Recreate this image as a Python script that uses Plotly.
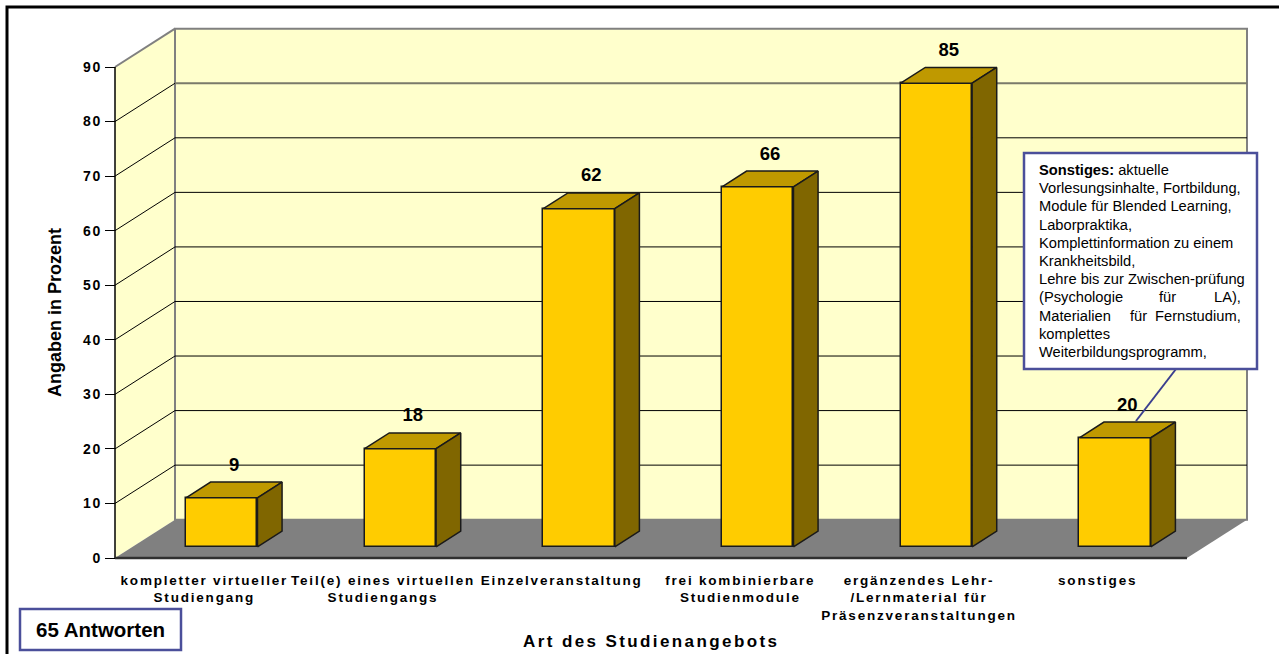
import plotly.graph_objects as go

# ---- data -------------------------------------------------------------
category_lines = [
    ["kompletter virtueller", "Studiengang"],
    ["Teil(e) eines virtuellen", "Studiengangs"],
    ["Einzelveranstaltung"],
    ["frei kombinierbare", "Studienmodule"],
    ["ergänzendes Lehr-", "/Lernmaterial für", "Präsenzveranstaltungen"],
    ["sonstiges"],
]
values = [9, 18, 62, 66, 85, 20]
y_ticks = [0, 10, 20, 30, 40, 50, 60, 70, 80, 90]
y_title = "Angaben in Prozent"
x_title = "Art des Studienangebots"
n_answers = "65 Antworten"
note_lines = [
    ["<b>Sonstiges:</b> aktuelle"],
    ["Vorlesungsinhalte, Fortbildung,"],
    ["Module für Blended Learning,"],
    ["Laborpraktika,"],
    ["Komplettinformation zu einem"],
    ["Krankheitsbild,"],
    ["Lehre bis zur Zwischen-prüfung"],
    ["(Psychologie", "für", "LA),"],
    ["Materialien", "für", "Fernstudium,"],
    ["komplettes"],
    ["Weiterbildungsprogramm,"],
]

# ---- geometry of the pseudo-3D frame -----------------------------------
W, H = 1279, 654
X0_PX, Y0_PX = 115, 558          # front corner of the chart box (value 0)
SX = (1187 - 115) / 6            # pixels per category
SY = (558 - 67) / 90             # pixels per percent
DX = 60 / SX                     # depth offset (x, in category units)
DY = 38.3 / SY                   # depth offset (y, in percent units)
PAD = 3
ML = X0_PX - PAD
MR = W - int(round(X0_PX + 6 * SX + 60)) - PAD
MB = H - Y0_PX - PAD
MT = int(round(Y0_PX - (90 + DY) * SY)) - PAD
PW = W - ML - MR
PH = H - MT - MB

Z0, Z1 = 0.29, 0.70              # depth span of the bars
BAR_W = 0.4

FRONT = "#FFCC00"
TOP = "#BF9900"
SIDE = "#806600"
WALL = "#FFFFCC"
FLOOR = "#808080"
EDGE = "#1a1a1a"
BOXLINE = "#4B4F9A"
FONT = "Liberation Sans, Arial, sans-serif"


def px(xp):
    return (xp - ML) / PW


def py(yp):
    return (H - MB - yp) / PH


def spaced(text, sp):
    return f'<span style="letter-spacing:{sp}px">{text}</span>'


def path(pts):
    return "M " + " L ".join(f"{x},{y}" for x, y in pts) + " Z"


shapes = []
# walls and floor
shapes.append(dict(type="path", xref="x", yref="y", layer="below",
                   path=path([(0, 0), (DX, DY), (DX, 90 + DY), (0, 90)]),
                   fillcolor=WALL, line=dict(width=0)))
shapes.append(dict(type="rect", xref="x", yref="y", layer="below",
                   x0=DX, y0=DY, x1=6 + DX, y1=90 + DY,
                   fillcolor=WALL, line=dict(color="#808080", width=2)))
shapes.append(dict(type="path", xref="x", yref="y", layer="below",
                   path=path([(0, 0), (6, 0), (6 + DX, DY), (DX, DY)]),
                   fillcolor=FLOOR, line=dict(width=0)))
# gridlines on back and side wall
for v in y_ticks[1:]:
    col = "#7a7a6a" if v >= 80 else "#000000"
    wid = 2 if v >= 80 else 1
    if v < 90:
        shapes.append(dict(type="line", xref="x", yref="y", layer="below",
                           x0=DX, y0=v + DY, x1=6 + DX, y1=v + DY,
                           line=dict(color=col, width=wid)))
    shapes.append(dict(type="line", xref="x", yref="y", layer="below",
                       x0=0, y0=v, x1=DX, y1=v + DY,
                       line=dict(color="#808080" if v == 90 else "#000000",
                                 width=2 if v == 90 else 1)))
# front axis lines
shapes.append(dict(type="line", xref="x", yref="y", layer="below",
                   x0=0, y0=0, x1=0, y1=90, line=dict(color="#000000", width=1.5)))
shapes.append(dict(type="line", xref="x", yref="y", layer="below",
                   x0=0, y0=0, x1=6, y1=0, line=dict(color="#303030", width=2.5)))

fig = go.Figure()

# bar front faces
fig.add_trace(go.Bar(
    x=[i + 0.5 + Z0 * DX for i in range(len(values))],
    y=values, base=Z0 * DY, width=BAR_W,
    marker=dict(color=FRONT, line=dict(color=EDGE, width=1.5)),
    hoverinfo="skip", showlegend=False,
))

# bar top and side faces
ddx, ddy = (Z1 - Z0) * DX, (Z1 - Z0) * DY
for i, v in enumerate(values):
    xl = i + 0.5 + Z0 * DX - BAR_W / 2
    xr = xl + BAR_W
    yb = Z0 * DY
    yt = yb + v
    top = [(xl, yt), (xr, yt), (xr + ddx, yt + ddy), (xl + ddx, yt + ddy), (xl, yt)]
    side = [(xr, yb), (xr, yt), (xr + ddx, yt + ddy), (xr + ddx, yb + ddy), (xr, yb)]
    for pts, col in ((top, TOP), (side, SIDE)):
        fig.add_trace(go.Scatter(
            x=[p[0] for p in pts], y=[p[1] for p in pts], mode="lines",
            fill="toself", fillcolor=col, line=dict(color=EDGE, width=1.5),
            hoverinfo="skip", showlegend=False,
        ))

# value labels above the bars
mid = (Z0 + Z1) / 2
fig.add_trace(go.Scatter(
    x=[i + 0.5 + mid * DX for i in range(len(values))],
    y=[Z0 * DY + v + (Z1 - Z0) / 2 * DY + 4.4 for v in values],
    mode="text", text=[str(v) for v in values],
    textfont=dict(family=FONT, size=18.5, weight="bold", color="#000000"),
    cliponaxis=False, hoverinfo="skip", showlegend=False,
))

# outer frame
shapes.append(dict(type="rect", xref="paper", yref="paper",
                   x0=px(7), y0=py(700), x1=px(1320), y1=py(7),
                   line=dict(color="#000000", width=3), fillcolor="rgba(0,0,0,0)"))
# "65 Antworten" box
shapes.append(dict(type="rect", xref="paper", yref="paper",
                   x0=px(20), y0=py(650), x1=px(181), y1=py(609),
                   line=dict(color=BOXLINE, width=2.5), fillcolor="#FFFFFF"))
# note box and its leader line
shapes.append(dict(type="line", xref="paper", yref="paper",
                   x0=px(1176), y0=py(369), x1=px(1136), y1=py(421),
                   line=dict(color="#3B3F8F", width=2)))
shapes.append(dict(type="rect", xref="paper", yref="paper",
                   x0=px(1024), y0=py(369), x1=px(1257), y1=py(153),
                   line=dict(color=BOXLINE, width=2.5), fillcolor="#FFFFFF"))

annotations = [
    dict(xref="paper", yref="paper", x=px(55), y=py(313), text=y_title,
         textangle=-90, showarrow=False, xanchor="center", yanchor="middle",
         font=dict(family=FONT, size=18, weight="bold", color="#000000")),
    dict(xref="paper", yref="paper", x=px(651), y=py(641), text=spaced(x_title, 2.4),
         showarrow=False, xanchor="center", yanchor="middle",
         font=dict(family=FONT, size=17, weight="bold", color="#000000")),
    dict(xref="paper", yref="paper", x=px(100.5), y=py(629.5), text=n_answers,
         showarrow=False, xanchor="center", yanchor="middle",
         font=dict(family=FONT, size=20.5, weight="bold", color="#000000")),
]
note_font = dict(family=FONT, size=14.7, color="#000000")
for k, words in enumerate(note_lines):
    yk = py(170 + 18.2 * k)
    if len(words) == 1:
        annotations.append(dict(xref="paper", yref="paper", x=px(1037), y=yk,
                                text=words[0], showarrow=False, xanchor="left",
                                yanchor="middle", font=note_font))
    else:
        anchors = [("left", 1037), ("center", None), ("right", 1243)]
        for (anc, xx), w in zip(anchors, words):
            if xx is None:
                xx = 1167 if k == 7 else 1138
            annotations.append(dict(xref="paper", yref="paper", x=px(xx), y=yk,
                                    text=w, showarrow=False, xanchor=anc,
                                    yanchor="middle", font=note_font))

xr = [-PAD / SX, (PW - PAD) / SX]
yr = [-PAD / SY, (PH - PAD) / SY]

fig.update_layout(
    width=W, height=H, template="none",
    margin=dict(l=ML, r=MR, t=MT, b=MB, pad=0),
    paper_bgcolor="#FFFFFF", plot_bgcolor="rgba(0,0,0,0)",
    showlegend=False, bargap=0,
    shapes=shapes, annotations=annotations,
    xaxis=dict(range=xr, showgrid=False, zeroline=False, showline=False,
               tickvals=[i + 0.5 for i in range(len(category_lines))],
               ticktext=["<br>".join(spaced(s, 1.8) for s in lines) for lines in category_lines],
               ticks="", tickangle=0, ticklabelstandoff=9, automargin=False,
               fixedrange=True,
               tickfont=dict(family=FONT, size=13.5, weight="bold", color="#000000")),
    xaxis2=dict(range=xr, overlaying="x", anchor="free", position=PAD / PH,
                side="bottom", showgrid=False, zeroline=False, showline=False,
                tickvals=list(range(len(category_lines) + 1)), ticks="outside",
                ticklen=9, tickwidth=1, tickcolor="#303030",
                showticklabels=False, automargin=False, fixedrange=True),
    yaxis=dict(range=yr, anchor="free", position=PAD / PW, side="left",
               showgrid=False, zeroline=False, showline=False,
               tickvals=y_ticks, ticktext=[spaced(str(t), 1.8) for t in y_ticks],
               ticks="outside", ticklen=10, tickwidth=1, tickcolor="#000000",
               automargin=False, fixedrange=True,
               tickfont=dict(family=FONT, size=14, weight="bold", color="#000000")),
)

fig.write_html("out.html")
